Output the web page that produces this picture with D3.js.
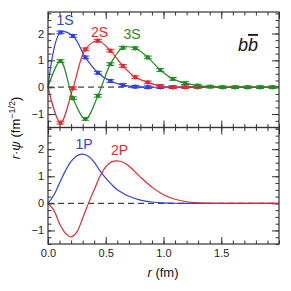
<!DOCTYPE html>
<html><head><meta charset="utf-8">
<script src="https://cdn.jsdelivr.net/npm/d3@7"></script>
<style>body{margin:0;background:#fff}svg{display:block;font-family:"Liberation Sans",Arial,sans-serif}</style>
</head><body>
<script>
// ---- data ----
const rPoints = [0.108,0.216,0.324,0.432,0.540,0.648,0.756,0.864,0.972,1.080,1.188,1.296,1.404,1.512,1.620,1.728,1.836,1.944];
const s1 = [2.04,1.91,1.11,0.54,0.23,0.08,0.02,0.00,0.00,0.00];
const s2 = [-1.32,-0.04,1.41,1.73,1.36,0.79,0.37,0.18,0.045,0.00,0.00,0.00];
const s3 = [0.97,-0.41,-1.18,-0.32,0.86,1.47,1.45,1.11,0.64,0.31,0.15,0.06,0.02,0.00,0.00,0.00,0.00,0.00];
const sErr = 0.05;
const rCurve = [0,0.05,0.10,0.15,0.20,0.25,0.30,0.35,0.40,0.45,0.50,0.55,0.60,0.65,0.70,0.80,0.90,1.00,1.10,1.20,1.30,1.40,1.50,2.00];
const p1 = [0,0.30,0.75,1.20,1.55,1.76,1.82,1.74,1.52,1.20,0.93,0.70,0.50,0.37,0.26,0.12,0.05,0.02,0.005,0,0,0,0,0];
const p2 = [0,-0.25,-0.75,-1.10,-1.24,-1.05,-0.55,0.00,0.50,1.00,1.35,1.53,1.57,1.52,1.38,0.97,0.60,0.32,0.15,0.06,0.02,0.005,0,0];
const yTicks = [-1,0,1,2];
const xTicks = [0,0.5,1,1.5];
const colors = {blue:"#2f3fe4", red:"#e5282c", green:"#1e8c1e"};

// ---- layout ----
const W=291,H=291;
const svg=d3.select("body").append("svg").attr("width",W).attr("height",H);
const x=d3.scaleLinear([0,2],[48,279]);
const yT=d3.scaleLinear([-1.5,2.8],[127.5,12]);
const yB=d3.scaleLinear([-1.5,2.8],[244,127.5]);
const axisCol="#333";

function frame(y, showX){
  const [y0,y1]=y.range();
  const g=svg.append("g");
  const minorX=d3.range(0,2.0001,0.1), minorY=d3.range(-1.5,2.8001,0.25);
  const add=(ax,tr)=>{const a=g.append("g").attr("transform",tr).call(ax);a.select(".domain").remove();a.selectAll("line").attr("stroke",axisCol);a.selectAll("text").attr("fill","#222").attr("font-size",11);return a;};
  // left
  add(d3.axisLeft(y).tickValues(yTicks).tickSize(-7).tickPadding(4).tickFormat(d3.format("d")),`translate(${x(0)},0)`);
  add(d3.axisLeft(y).tickValues(minorY).tickSize(-3.5).tickFormat(""),`translate(${x(0)},0)`);
  // right
  add(d3.axisRight(y).tickValues(yTicks).tickSize(-7).tickFormat(""),`translate(${x(2)},0)`);
  add(d3.axisRight(y).tickValues(minorY).tickSize(-3.5).tickFormat(""),`translate(${x(2)},0)`);
  // top
  add(d3.axisTop(x).tickValues(xTicks.concat([2])).tickSize(-7).tickFormat(""),`translate(0,${y1})`);
  add(d3.axisTop(x).tickValues(minorX).tickSize(-3.5).tickFormat(""),`translate(0,${y1})`);
  // bottom
  const bx=add(d3.axisBottom(x).tickValues(xTicks).tickSize(-7).tickPadding(5).tickFormat(showX?d3.format(".1f"):""),`translate(0,${y0})`);
  add(d3.axisBottom(x).tickValues(minorX).tickSize(-3.5).tickFormat(""),`translate(0,${y0})`);
  // zero line
  g.append("line").attr("x1",x(0)).attr("x2",x(2)).attr("y1",y(0)).attr("y2",y(0))
    .attr("stroke","#444").attr("stroke-width",1.2).attr("stroke-dasharray","6,4");
  return g;
}
const gT=frame(yT,false);
const gB=frame(yB,true);

const line=(y)=>d3.line().x(d=>x(d[0])).y(d=>y(d[1])).curve(d3.curveCatmullRom.alpha(0.5));

// top panel: curves + points
function series(vals,col){
  const pts=[[0,0]].concat(vals.map((v,i)=>[rPoints[i],v]));
  if(pts[pts.length-1][0]<2) pts.push([2,0]);
  svg.append("path").attr("d",line(yT)(pts)).attr("fill","none").attr("stroke",col).attr("stroke-width",1.2);
  const g=svg.append("g").attr("stroke",col).attr("fill",col);
  vals.forEach((v,i)=>{
    const cx=x(rPoints[i]);
    g.append("line").attr("x1",cx).attr("x2",cx).attr("y1",yT(v-sErr)).attr("y2",yT(v+sErr)).attr("stroke-width",1);
    g.append("line").attr("x1",cx-4).attr("x2",cx+4).attr("y1",yT(v-sErr)).attr("y2",yT(v-sErr)).attr("stroke-width",1);
    g.append("line").attr("x1",cx-4).attr("x2",cx+4).attr("y1",yT(v+sErr)).attr("y2",yT(v+sErr)).attr("stroke-width",1);
    g.append("circle").attr("cx",cx).attr("cy",yT(v)).attr("r",2.2).attr("stroke","none");
  });
}
series(s1,colors.blue);
series(s2,colors.red);
series(s3,colors.green);

// bottom panel curves
svg.append("path").attr("d",line(yB)(rCurve.map((r,i)=>[r,p1[i]]))).attr("fill","none").attr("stroke",colors.blue).attr("stroke-width",1.2);
svg.append("path").attr("d",line(yB)(rCurve.map((r,i)=>[r,p2[i]]))).attr("fill","none").attr("stroke",colors.red).attr("stroke-width",1.2);

// frames
[yT,yB].forEach(y=>{
  const [y0,y1]=y.range();
  svg.append("rect").attr("x",x(0)).attr("y",y1).attr("width",x(2)-x(0)).attr("height",y0-y1)
    .attr("fill","none").attr("stroke",axisCol).attr("stroke-width",1.2);
});

// labels
const lab=(t,px,py,col,fs)=>svg.append("text").attr("x",px).attr("y",py).attr("fill",col).attr("font-size",fs).attr("text-anchor","middle").text(t);
lab("1S",65,25,colors.blue,14);
lab("2S",99.5,37,colors.red,14);
lab("3S",132,39,colors.green,14);
lab("1P",84,148.5,colors.blue,14);
lab("2P",119.5,154.5,colors.red,14);

// b bbar
const bb=svg.append("text").attr("x",248).attr("y",51).attr("font-size",18).attr("font-style","italic").attr("text-anchor","middle").attr("fill","#111");
bb.append("tspan").text("b");
bb.append("tspan").attr("text-decoration","overline").style("text-decoration","overline").text("b");

// axis titles
const xl=svg.append("text").attr("x",163).attr("y",277).attr("font-size",13).attr("text-anchor","middle").attr("fill","#111");
xl.append("tspan").attr("font-style","italic").text("r");
xl.append("tspan").text(" (fm)");
const yl=svg.append("text").attr("transform","translate(20,128) rotate(-90)").attr("font-size",13).attr("text-anchor","middle").attr("fill","#111");
yl.append("tspan").attr("font-style","italic").text("r");
yl.append("tspan").text("\u00b7");
yl.append("tspan").attr("font-style","italic").text("\u03c8");
yl.append("tspan").text(" (fm");
yl.append("tspan").attr("dy",-5).attr("font-size",9).text("\u22121/2");
yl.append("tspan").attr("dy",5).text(")");
</script>
</body></html>
